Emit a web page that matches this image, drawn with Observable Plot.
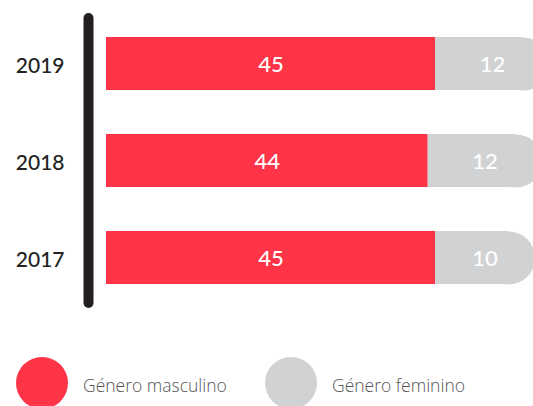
<!DOCTYPE html>
<html>
<head>
<meta charset="utf-8">
<script src="https://cdn.jsdelivr.net/npm/d3@7"></script>
<script src="https://cdn.jsdelivr.net/npm/@observablehq/plot@0.6"></script>
<style>
  html, body { margin: 0; padding: 0; background: #fff; }
  #wrap { position: relative; width: 533px; height: 406px; overflow: hidden; font-family: Lato, "Open Sans", sans-serif; }
  #chart svg { display: block; }
  .leg { position: absolute; display: flex; align-items: center; }
  .sw { width: 52px; height: 52px; border-radius: 50%; flex: none; }
  .lab { font-family: "Open Sans", sans-serif; font-size: 17.5px; color: #555; margin-left: 15px; font-weight: 300; white-space: nowrap; padding-top: 4px; }
</style>
</head>
<body>
<div id="wrap">
  <div id="chart"></div>
  <div id="legend"></div>
</div>
<script>
const years = ["2019", "2018", "2017"];
const masculino = [45, 44, 45];
const feminino = [12, 12, 10];
const series = ["Género masculino", "Género feminino"];
const colors = ["#ff3547", "#d1d2d4"];

const rows = [];
years.forEach((y, i) => {
  rows.push({year: y, genero: series[0], value: masculino[i]});
  rows.push({year: y, genero: series[1], value: feminino[i]});
});
const femRows = years.map((y, i) => ({year: y, total: masculino[i] + feminino[i]}));

const chart = Plot.plot({
  width: 533,
  height: 330,
  marginLeft: 106,
  marginRight: 0,
  marginTop: 13,
  marginBottom: 22,
  style: {fontFamily: "Lato, 'Open Sans', sans-serif", background: "transparent"},
  x: {domain: [0, 58.4], axis: null},
  y: {domain: years, paddingInner: 0.454, paddingOuter: 0.247, label: null},
  color: {domain: series, range: colors},
  marks: [
    Plot.axisY({tickSize: 0, tickPadding: 42, fontSize: 21, fontWeight: 500, fill: "#222", dy: 2, label: null}),
    Plot.dot(femRows, {x: "total", y: "year", r: 26.5, fill: colors[1], stroke: null}),
    Plot.barX(rows, Plot.stackX({y: "year", x: "value", fill: "genero"})),
    Plot.text(rows, Plot.stackX({y: "year", x: "value", text: d => d.genero === series[0] ? String(d.value) : "", fill: "white", fontSize: 22, fontWeight: 500, dy: 1})),
    Plot.text(rows, Plot.stackX({y: "year", x: "value", text: d => d.genero === series[1] ? String(d.value) : "", fill: "white", fontSize: 22, fontWeight: 500, dy: 1, dx: 13})),
    Plot.ruleX([0], {dx: -18, stroke: "#231f20", strokeWidth: 10, strokeLinecap: "round", insetTop: 5, insetBottom: 5})
  ]
});
document.getElementById("chart").appendChild(chart);

const legend = document.getElementById("legend");
const legX = [16, 265];
series.forEach((s, i) => {
  const el = document.createElement("div");
  el.className = "leg";
  el.style.left = legX[i] + "px";
  el.style.top = "357px";
  el.innerHTML = `<div class="sw" style="background:${colors[i]}"></div><div class="lab">${s}</div>`;
  legend.appendChild(el);
});
</script>
</body>
</html>
